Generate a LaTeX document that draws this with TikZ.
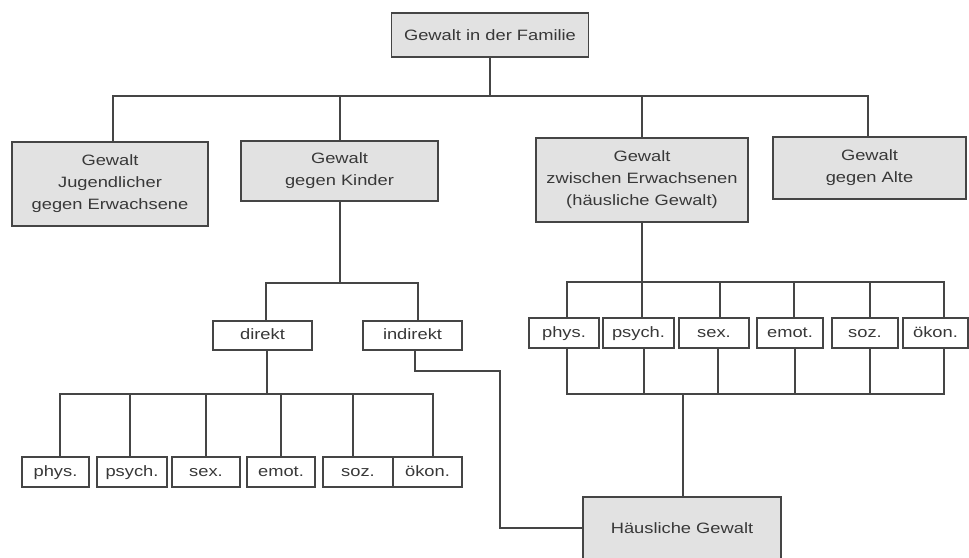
\documentclass[tikz,border=0pt]{standalone}
\usepackage{fontspec}
\setmainfont[FakeStretch=1.22]{Liberation Sans}
\definecolor{linec}{HTML}{454545}
\definecolor{textc}{HTML}{383838}
\definecolor{boxgray}{HTML}{E2E2E2}
\begin{document}
\begin{tikzpicture}[x=1pt,y=-1pt,
  bigbox/.style={draw=linec, fill=boxgray, line width=1.6pt, text=textc,
    font=\fontsize{15}{22}\selectfont, align=center, inner sep=0pt},
  smallbox/.style={draw=linec, fill=white, line width=1.6pt, text=textc,
    font=\fontsize{15}{17}\selectfont, align=center, inner sep=0pt,
    text height=11pt, text depth=3pt},
  conn/.style={draw=linec, line width=1.6pt}]
\useasboundingbox[fill=white] (0,0) rectangle (969,557);
\begin{scope}
\clip (0,0) rectangle (969,557);
% level 1
\node[bigbox, minimum width=197pt, minimum height=44pt] (top) at (490,35) {Gewalt in der Familie};
% level 2
\node[bigbox, minimum width=196pt, minimum height=84pt] (jug) at (110,184) {Gewalt\\Jugendlicher\\gegen Erwachsene};
\node[bigbox, minimum width=197pt, minimum height=60pt] (kind) at (339.5,171) {Gewalt\\gegen Kinder};
\node[bigbox, minimum width=212pt, minimum height=84pt] (zw) at (642,180) {Gewalt\\zwischen Erwachsenen\\(häusliche Gewalt)};
\node[bigbox, minimum width=193pt, minimum height=62pt] (alte) at (869.5,168) {Gewalt\\gegen Alte};
% direkt / indirekt
\node[smallbox, minimum width=99pt, minimum height=29pt] (dir) at (262.5,335.5) {direkt};
\node[smallbox, minimum width=99pt, minimum height=29pt] (ind) at (412.5,335.5) {indirekt};
% right row
\node[smallbox, minimum width=70pt, minimum height=30pt] (rphys) at (564,333) {phys.};
\node[smallbox, minimum width=71pt, minimum height=30pt] (rpsych) at (638.5,333) {psych.};
\node[smallbox, minimum width=70pt, minimum height=30pt] (rsex) at (714,333) {sex.};
\node[smallbox, minimum width=66pt, minimum height=30pt] (remot) at (790,333) {emot.};
\node[smallbox, minimum width=66pt, minimum height=30pt] (rsoz) at (865,333) {soz.};
\node[smallbox, minimum width=65pt, minimum height=30pt] (rokon) at (935.5,333) {ökon.};
% left row
\node[smallbox, minimum width=67pt, minimum height=30pt] (lphys) at (55.5,472) {phys.};
\node[smallbox, minimum width=70pt, minimum height=30pt] (lpsych) at (132,472) {psych.};
\node[smallbox, minimum width=68pt, minimum height=30pt] (lsex) at (206,472) {sex.};
\node[smallbox, minimum width=68pt, minimum height=30pt] (lemot) at (281,472) {emot.};
\node[smallbox, minimum width=70pt, minimum height=30pt] (lsoz) at (358,472) {soz.};
\node[smallbox, minimum width=69pt, minimum height=30pt] (lokon) at (427.5,472) {ökon.};
% bottom
\node[bigbox, minimum width=198pt, minimum height=62pt] (haus) at (682,528) {Häusliche Gewalt};
% buses
\coordinate (topbus) at (490,96);
\coordinate (kbus) at (340,283);
\coordinate (zbus) at (642,282);
\coordinate (lbus) at (267,394);
\coordinate (rbus) at (683,394);
\coordinate (ibend) at (500,371);
% connectors level 1
\draw[conn] (top.south) -- (topbus);
\draw[conn] ([xshift=3pt]jug.north) |- (topbus);
\draw[conn] ([xshift=0.5pt]kind.north) |- (topbus);
\draw[conn] (zw.north) |- (topbus);
\draw[conn] ([xshift=-1.5pt]alte.north) |- (topbus);
% Kinder branch
\draw[conn] (kind.south -| kbus) -- (kbus);
\draw[conn] ([xshift=3.5pt]dir.north) |- (kbus);
\draw[conn] ([xshift=5.5pt]ind.north) |- (kbus);
% direkt -> left row
\draw[conn] (dir.south -| lbus) -- (lbus);
\draw[conn] ([xshift=4.5pt]lphys.north) |- (lbus);
\draw[conn] ([xshift=-2pt]lpsych.north) |- (lbus);
\draw[conn] (lsex.north) |- (lbus);
\draw[conn] (lemot.north) |- (lbus);
\draw[conn] ([xshift=-5pt]lsoz.north) |- (lbus);
\draw[conn] ([xshift=5.5pt]lokon.north) |- (lbus);
% zwischen -> right row
\draw[conn] (zw.south) -- (zbus);
\draw[conn] ([xshift=3pt]rphys.north) |- (zbus);
\draw[conn] ([xshift=3.5pt]rpsych.north) |- (zbus);
\draw[conn] ([xshift=6pt]rsex.north) |- (zbus);
\draw[conn] ([xshift=4pt]remot.north) |- (zbus);
\draw[conn] ([xshift=5pt]rsoz.north) |- (zbus);
\draw[conn] ([xshift=8.5pt]rokon.north) |- (zbus);
% right row -> Häusliche Gewalt
\draw[conn] ([xshift=3pt]rphys.south) |- (rbus);
\draw[conn] ([xshift=5.5pt]rpsych.south) |- (rbus);
\draw[conn] ([xshift=4pt]rsex.south) |- (rbus);
\draw[conn] ([xshift=5pt]remot.south) |- (rbus);
\draw[conn] ([xshift=5pt]rsoz.south) |- (rbus);
\draw[conn] ([xshift=8.5pt]rokon.south) |- (rbus);
\draw[conn] (rbus) -- (haus.north -| rbus);
% indirekt -> Häusliche Gewalt
\draw[conn] ([xshift=2.5pt]ind.south) |- (ibend) |- (haus.west);
\end{scope}
\end{tikzpicture}
\end{document}
